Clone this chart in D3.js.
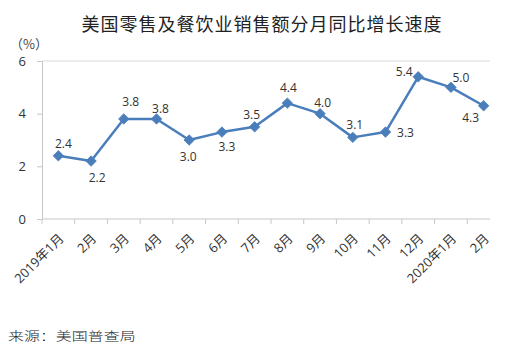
<!DOCTYPE html>
<html>
<head>
<meta charset="utf-8">
<script src="https://cdn.jsdelivr.net/npm/d3@7"></script>
<style>
  html, body { margin: 0; padding: 0; background: #fff; }
  svg { display: block; }
  text { font-family: "Open Sans", "Noto Sans CJK SC", sans-serif; fill: #333; }
</style>
</head>
<body>
<svg id="chart" width="508" height="348"></svg>
<script>
// Month categories and year-on-year growth (%)
const months = ["2019年1月", "2月", "3月", "4月", "5月", "6月", "7月", "8月", "9月", "10月", "11月", "12月", "2020年1月", "2月"];
const growth = [2.4, 2.2, 3.8, 3.8, 3.0, 3.3, 3.5, 4.4, 4.0, 3.1, 3.3, 5.4, 5.0, 4.3];
const yTicks = [0, 2, 4, 6];

const titleText = "美国零售及餐饮业销售额分月同比增长速度";
const unitText = "（%）";
const sourceText = "来源：美国普查局";

// Offsets of each value label from its marker, in pixels
const labelOffsets = [
  [5, -12], [6, 17], [7, -17], [4, -10], [-1, 17], [5, 15], [-3, -12],
  [1, -15], [2.5, -11], [2, -13], [20, 1], [-14, -5], [10, -10], [-13, 12.5]
];

const svg = d3.select("#chart");
const plotLeft = 42, plotRight = 500, axisEnd = 490, plotTop = 61, plotBottom = 219;
const lineColor = "#4a7ebb";
const axisColor = "#c8c8c8";

// Month labels repeat ("2月"), so the band scale is keyed by position
const idx = d3.range(months.length);
const x = d3.scaleBand().domain(idx).range([plotLeft, plotRight]);
const y = d3.scaleLinear().domain([0, 6]).range([plotBottom, plotTop]);
const cx = i => x(i) + x.bandwidth() / 2;

// Title
svg.append("text")
  .attr("x", 262).attr("y", 31)
  .attr("text-anchor", "middle")
  .style("font-family", "'Noto Sans CJK SC', sans-serif")
  .style("font-size", "18px")
  .style("letter-spacing", "1px")
  .style("fill", "#222")
  .text(titleText);

// Unit
svg.append("text")
  .attr("x", 29).attr("y", 49)
  .attr("text-anchor", "middle")
  .style("font-family", "'Noto Sans CJK SC', sans-serif")
  .style("font-size", "13px")
  .style("fill", "#444")
  .text(unitText);

// Top gridline
svg.append("line")
  .attr("x1", plotLeft).attr("x2", axisEnd)
  .attr("y1", y(6)).attr("y2", y(6))
  .attr("stroke", "#d9d9d9").attr("stroke-width", 1.2);

// Y axis
const yAxis = svg.append("g")
  .attr("transform", `translate(${plotLeft},0)`)
  .call(d3.axisLeft(y).tickValues(yTicks).tickFormat(d3.format("d")).tickSize(5).tickPadding(11));
yAxis.select(".domain").attr("stroke", axisColor);
yAxis.selectAll(".tick line").attr("stroke", axisColor);
yAxis.selectAll(".tick text")
  .style("font-family", "'Open Sans', sans-serif")
  .style("font-size", "13px").style("fill", "#333");

// X axis: ticks on category boundaries
const xAxis = svg.append("g").attr("transform", `translate(0,${plotBottom})`);
xAxis.selectAll("line.tick")
  .data(idx)
  .join("line")
  .attr("class", "tick")
  .attr("x1", i => x(i)).attr("x2", i => x(i))
  .attr("y1", 0).attr("y2", 5)
  .attr("stroke", axisColor);
xAxis.append("line")
  .attr("x1", plotLeft).attr("x2", axisEnd)
  .attr("y1", 0).attr("y2", 0)
  .attr("stroke", axisColor).attr("stroke-width", 1.2);

// Rotated month labels
svg.append("g")
  .selectAll("text")
  .data(idx)
  .join("text")
  .attr("transform", i => `translate(${cx(i) + 3},${plotBottom + 17}) rotate(-45)`)
  .attr("text-anchor", "end")
  .attr("dy", "0.35em")
  .style("font-size", "13px")
  .style("fill", "#333")
  .text(i => months[i]);

// Line
svg.append("path")
  .datum(growth)
  .attr("fill", "none")
  .attr("stroke", lineColor)
  .attr("stroke-width", 2.5)
  .attr("stroke-linejoin", "round")
  .attr("d", d3.line().x((d, i) => cx(i)).y(d => y(d)));

// Diamond markers
svg.append("g")
  .selectAll("path")
  .data(growth)
  .join("path")
  .attr("transform", (d, i) => `translate(${cx(i)},${y(d)})`)
  .attr("d", d3.symbol().type(d3.symbolDiamond2).size(70))
  .attr("fill", lineColor)
  .attr("stroke", lineColor)
  .attr("stroke-width", 0.8);

// Value labels
svg.append("g")
  .selectAll("text")
  .data(growth)
  .join("text")
  .attr("x", (d, i) => cx(i) + labelOffsets[i][0])
  .attr("y", (d, i) => y(d) + labelOffsets[i][1])
  .attr("text-anchor", "middle")
  .attr("dy", "0.35em")
  .style("font-size", "12px")
  .style("fill", "#333")
  .text(d => d.toFixed(1));

// Source note
svg.append("text")
  .attr("transform", "translate(8,341) scale(1.33,1)")
  .style("font-family", "'Noto Sans CJK SC', sans-serif")
  .style("font-size", "12px")
  .style("font-weight", "300")
  .style("fill", "#222")
  .text(sourceText);
</script>
</body>
</html>
